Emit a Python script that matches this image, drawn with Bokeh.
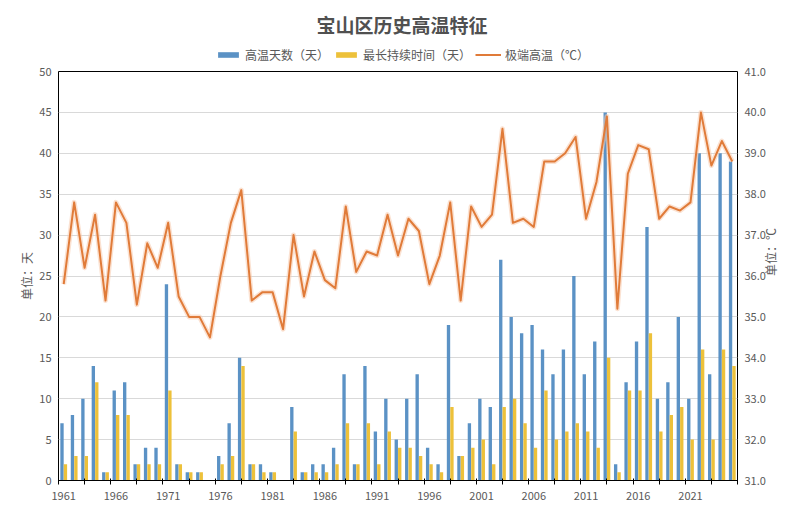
import math
from bokeh.plotting import figure
from bokeh.layouts import column
from bokeh.models import (Range1d, LinearAxis, FixedTicker, NumeralTickFormatter,
                          Legend, LegendItem, ColumnDataSource, Label)
from bokeh.transform import dodge
from bokeh.embed import file_html
from bokeh.resources import INLINE

# ---------------- data ----------------
years = list(range(1961, 2026))
hot_days = [7, 8, 10, 14, 1, 11, 12, 2, 4, 4,
            24, 2, 1, 1, 0, 3, 7, 15, 2, 2,
            1, 0, 9, 1, 2, 2, 4, 13, 2, 14,
            6, 10, 5, 10, 13, 4, 2, 19, 3, 7,
            10, 9, 27, 20, 18, 19, 16, 13, 16, 25,
            13, 17, 45, 2, 12, 17, 31, 10, 12, 20,
            10, 40, 13, 40, 39]
longest_run = [2, 3, 3, 12, 1, 8, 8, 2, 2, 2,
               11, 2, 1, 1, 0, 2, 3, 14, 2, 1,
               1, 0, 6, 1, 1, 1, 2, 7, 2, 7,
               2, 6, 4, 4, 3, 2, 1, 9, 3, 4,
               5, 2, 9, 10, 7, 4, 11, 5, 6, 7,
               6, 4, 15, 1, 11, 11, 18, 6, 8, 9,
               5, 16, 5, 16, 14]
max_temp = [35.8, 37.8, 36.2, 37.5, 35.4, 37.8, 37.3, 35.3, 36.8, 36.2,
            37.3, 35.5, 35.0, 35.0, 34.5, 36.0, 37.3, 38.1, 35.4, 35.6,
            35.6, 34.7, 37.0, 35.5, 36.6, 35.9, 35.7, 37.7, 36.1, 36.6,
            36.5, 37.5, 36.5, 37.4, 37.1, 35.8, 36.5, 37.8, 35.4, 37.7,
            37.2, 37.5, 39.6, 37.3, 37.4, 37.2, 38.8, 38.8, 39.0, 39.4,
            37.4, 38.3, 39.9, 35.2, 38.5, 39.2, 39.1, 37.4, 37.7, 37.6,
            37.8, 40.0, 38.7, 39.3, 38.8]

x_label_years = [1961, 1966, 1971, 1976, 1981, 1986, 1991, 1996, 2001, 2006, 2011, 2016, 2021]
x_label_texts = ["1961", "1966", "1971", "1976", "1981", "1986", "1991",
                 "1996", "2001", "2006", "2011", "2016", "2021"]
x_tick_marks = [1960.5 + 2.5 * k for k in range(27)]
left_ticks = [0, 5, 10, 15, 20, 25, 30, 35, 40, 45, 50]
right_ticks = [31, 32, 33, 34, 35, 36, 37, 38, 39, 40, 41]

title_text = "宝山区历史高温特征"
series_names = ["高温天数（天）", "最长持续时间（天）", "极端高温（℃）"]
left_title = "单位：天"
right_title = "单位：℃"

# ---------------- style / layout ----------------
FONT = "Noto Sans CJK SC"
TXT = "#595959"
BLUE = "#5B92C5"
GOLD = "#EDC13A"
ORANGE = "#E07B39"

W = 795
TOP_H = 63
MAIN_H = 452
B_LEFT, B_RIGHT = 58, 58

src = ColumnDataSource(dict(year=years, days=hot_days, run=longest_run, tmax=max_temp))

# ---------- header figure: title + legend ----------
head = figure(width=W, height=TOP_H, output_backend="svg", toolbar_location=None,
              x_range=Range1d(0, 1), y_range=Range1d(0, TOP_H),
              min_border_left=B_LEFT, min_border_right=B_RIGHT,
              min_border_top=0, min_border_bottom=0)
head.axis.visible = False
head.grid.visible = False
head.outline_line_color = None
head.background_fill_color = "white"
head.border_fill_color = "white"

head.add_layout(Label(x=0.5, y=TOP_H - 24, text=title_text, x_offset=4,
                      text_align="center", text_baseline="middle",
                      text_font=FONT, text_font_size="19px", text_font_style="bold",
                      text_color="#505050"))

# legend-only renderers (hidden; they only supply the legend swatches)
h_days = head.vbar(x="year", top="days", width=0.32, source=src,
                   fill_color=BLUE, line_color=None)
h_run = head.vbar(x="year", top="run", width=0.32, source=src,
                  fill_color=GOLD, line_color=None)
h_temp = head.line(x="year", y="tmax", source=src, line_width=2, line_color=ORANGE)
for r in (h_days, h_run, h_temp):
    r.visible = False

legend = Legend(items=[LegendItem(label=series_names[0], renderers=[h_days]),
                       LegendItem(label=series_names[1], renderers=[h_run]),
                       LegendItem(label=series_names[2], renderers=[h_temp])],
                orientation="horizontal", location=(157, 0),
                label_text_font=FONT, label_text_font_size="12px",
                label_text_color=TXT, glyph_width=26, glyph_height=7,
                label_height=14, label_standoff=4, spacing=4, padding=1, margin=0,
                border_line_color=None, background_fill_alpha=0,
                inactive_fill_alpha=0)
head.add_layout(legend, "center")

# ---------- main chart ----------
p = figure(width=W, height=MAIN_H, output_backend="svg", toolbar_location=None,
           x_range=Range1d(1960.5, 2025.5), y_range=Range1d(0, 50),
           min_border_left=B_LEFT, min_border_right=B_RIGHT, min_border_top=8,
           min_border_bottom=35)
p.extra_y_ranges = {"temp": Range1d(31, 41)}

p.outline_line_color = "black"
p.outline_line_width = 1
p.background_fill_color = "white"
p.border_fill_color = "white"

p.xgrid.visible = False
p.ygrid.ticker = FixedTicker(ticks=left_ticks)
p.ygrid.grid_line_color = "#D9D9D9"
p.ygrid.grid_line_width = 1

p.vbar(x=dodge("year", -0.165), top="days", width=0.32, source=src,
       fill_color=BLUE, line_color=None)
p.vbar(x=dodge("year", 0.165), top="run", width=0.32, source=src,
       fill_color=GOLD, line_color=None)
p.line("year", "tmax", source=src, y_range_name="temp", line_width=5,
       line_color="#F8CBAD", line_alpha=0.55, line_join="round")
p.line("year", "tmax", source=src, y_range_name="temp", line_width=2,
       line_color=ORANGE, line_join="round")

# x axis
xa = p.xaxis[0]
xa.ticker = FixedTicker(ticks=x_label_years, minor_ticks=x_tick_marks)
xa.major_label_overrides = {y: t for y, t in zip(x_label_years, x_label_texts)}
xa.major_tick_line_color = None
xa.major_tick_out = 0
xa.major_tick_in = 0
xa.minor_tick_line_color = "black"
xa.minor_tick_out = 4
xa.minor_tick_in = 2
xa.axis_line_color = "black"
xa.major_label_standoff = 7
xa.major_label_text_font = FONT
xa.major_label_text_font_size = "11px"
xa.major_label_text_color = TXT

# left axis
ya = p.yaxis[0]
ya.ticker = FixedTicker(ticks=left_ticks)
ya.axis_line_color = None
ya.major_tick_line_color = None
ya.minor_tick_line_color = None
ya.major_tick_out = 0
ya.major_label_standoff = 7
ya.major_label_text_font = FONT
ya.major_label_text_font_size = "11px"
ya.major_label_text_color = TXT
ya.axis_label = left_title
ya.axis_label_text_font = FONT
ya.axis_label_text_font_size = "12px"
ya.axis_label_text_font_style = "normal"
ya.axis_label_text_color = TXT
ya.axis_label_standoff = 1

# right axis
ra = LinearAxis(y_range_name="temp", ticker=FixedTicker(ticks=right_ticks),
                formatter=NumeralTickFormatter(format="0.0"))
ra.axis_line_color = None
ra.major_tick_line_color = None
ra.minor_tick_line_color = None
ra.major_tick_out = 0
ra.major_label_standoff = 7
ra.major_label_text_font = FONT
ra.major_label_text_font_size = "11px"
ra.major_label_text_color = TXT
ra.axis_label = right_title
ra.axis_label_text_font = FONT
ra.axis_label_text_font_size = "12px"
ra.axis_label_text_font_style = "normal"
ra.axis_label_text_color = TXT
ra.axis_label_standoff = 2
try:
    ra.axis_label_orientation = math.pi / 2
except Exception:
    pass
p.add_layout(ra, "right")

page = column(head, p, spacing=0)
open("out.html", "w").write(file_html(page, INLINE))
